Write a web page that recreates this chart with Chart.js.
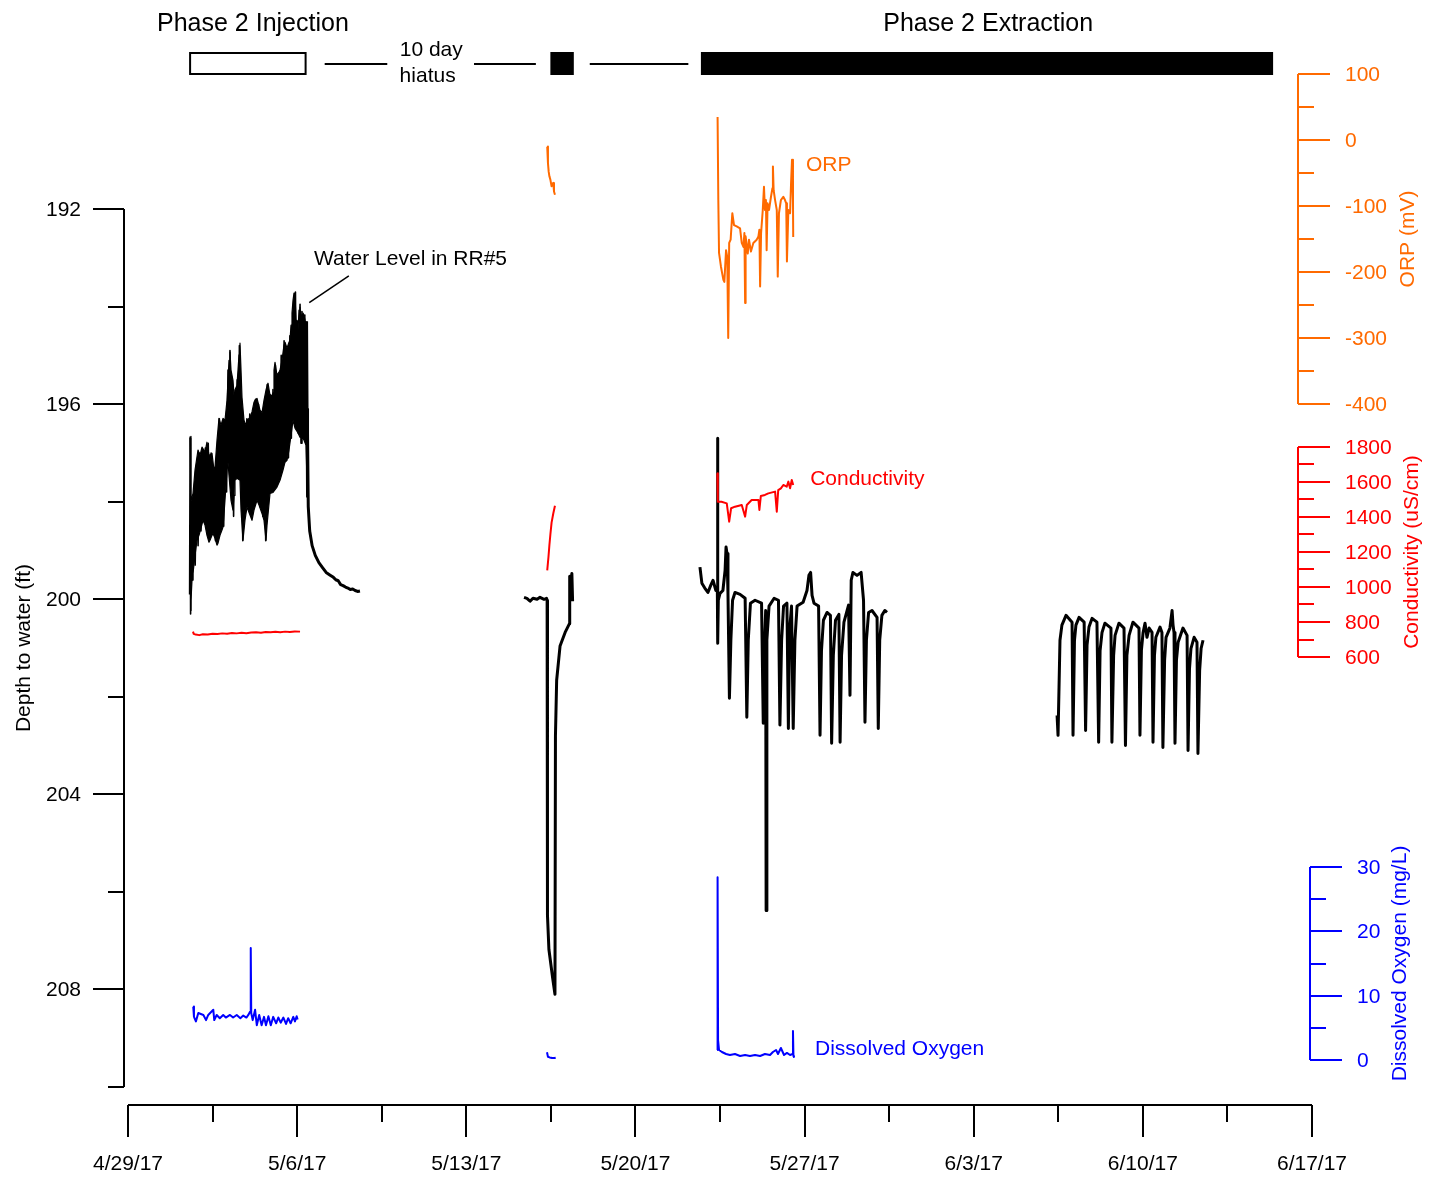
<!DOCTYPE html>
<html>
<head>
<meta charset="utf-8">
<title>RR#5 water level, ORP, conductivity and dissolved oxygen</title>
<script src="https://cdn.jsdelivr.net/npm/chart.js@4.4.1/dist/chart.umd.min.js"></script>
<style>
  html, body { margin: 0; padding: 0; background: #fff; }
  #chart { display: block; }
</style>
</head>
<body>
<canvas id="chart" width="1431" height="1178"></canvas>
<script>
// --- Datos: x = días desde 4/29/17 00:00 ---
const dateLabels = ['4/29/17', '5/6/17', '5/13/17', '5/20/17', '5/27/17', '6/3/17', '6/10/17', '6/17/17'];
const dateTickDays = [0, 7, 14, 21, 28, 35, 42, 49];

// Profundidad al agua (ft), pozo RR#5
// Inyección: la señal oscila muy rápido; envolvente (mín. y máx.) más las oscilaciones leídas
const wlInjUpper = [
  [2.566, 196.66], [2.607, 198.0], [2.690, 197.83], [2.773, 197.35], [2.897, 196.94], [2.980, 197.05],
  [3.063, 196.88], [3.187, 196.98], [3.269, 196.78], [3.352, 197.05], [3.476, 197.01], [3.559, 197.35],
  [3.601, 197.29], [3.683, 196.74], [3.766, 196.29], [3.849, 196.43], [3.932, 196.29], [4.014, 196.33],
  [4.097, 195.92], [4.180, 195.10], [4.221, 194.93], [4.263, 195.30], [4.345, 195.51], [4.387, 195.82],
  [4.428, 195.71], [4.511, 195.61], [4.594, 194.99], [4.635, 194.75], [4.677, 195.30], [4.718, 195.86],
  [4.801, 196.33], [4.883, 196.43], [4.925, 196.33], [5.008, 196.29], [5.049, 196.27], [5.132, 196.16],
  [5.215, 195.96], [5.256, 195.92], [5.339, 195.88], [5.380, 195.88], [5.463, 196.12], [5.546, 196.18],
  [5.628, 195.92], [5.711, 195.71], [5.794, 195.57], [5.877, 195.82], [5.960, 195.82], [6.001, 195.77],
  [6.042, 195.30], [6.084, 195.14], [6.166, 195.41], [6.249, 195.34], [6.291, 195.30], [6.373, 195.10],
  [6.456, 194.79], [6.498, 194.73], [6.580, 194.85], [6.663, 194.73], [6.705, 194.69], [6.746, 194.38],
  [6.787, 194.13], [6.829, 193.87], [6.870, 193.72], [6.911, 193.76], [6.953, 194.28], [6.994, 194.58],
  [7.036, 194.48], [7.077, 194.07], [7.118, 194.01], [7.160, 194.17], [7.201, 194.24], [7.242, 194.13],
  [7.284, 194.17], [7.325, 194.22], [7.367, 194.48], [7.408, 196.12]
];
const wlInjLower = [
  [2.566, 200.23], [2.607, 200.02], [2.649, 199.61], [2.690, 199.47], [2.773, 199.10], [2.856, 198.79],
  [2.938, 198.69], [3.021, 198.54], [3.104, 198.38], [3.187, 198.48], [3.269, 198.69], [3.352, 198.83],
  [3.394, 198.79], [3.476, 198.69], [3.518, 198.65], [3.601, 198.75], [3.683, 198.89], [3.725, 198.85],
  [3.807, 198.69], [3.890, 198.58], [3.932, 198.52], [4.014, 197.97], [4.097, 197.35], [4.139, 197.19],
  [4.180, 197.46], [4.263, 197.97], [4.345, 198.17], [4.387, 197.87], [4.428, 197.56], [4.511, 197.52],
  [4.635, 197.56], [4.677, 198.17], [4.759, 198.79], [4.842, 198.38], [4.925, 198.11], [5.008, 198.22],
  [5.132, 198.38], [5.215, 198.17], [5.339, 197.97], [5.422, 198.07], [5.546, 198.24], [5.628, 198.38],
  [5.711, 198.79], [5.753, 198.48], [5.877, 197.83], [6.001, 197.81], [6.166, 197.70], [6.291, 197.56],
  [6.415, 197.35], [6.498, 197.19], [6.580, 197.15], [6.663, 196.94], [6.746, 196.64], [6.829, 196.33],
  [6.911, 196.49], [7.036, 196.59], [7.118, 196.68], [7.201, 196.66], [7.284, 196.74], [7.367, 196.84],
  [7.408, 197.56]
];
const wlInjSwing = [
  [2.55, 199.9], [2.57, 196.7], [2.59, 200.3], [2.63, 198.0], [2.67, 199.6], [2.72, 197.9], [2.78, 199.3],
  [2.84, 197.3], [2.90, 198.9], [2.96, 197.0], [3.02, 198.6], [3.08, 197.1], [3.14, 198.4], [3.20, 196.9],
  [3.26, 198.3], [3.32, 196.8], [3.38, 198.7], [3.44, 197.0], [3.50, 198.6], [3.56, 197.3], [3.62, 198.8],
  [3.68, 197.2], [3.74, 198.6], [3.78, 196.3], [3.84, 198.2], [3.90, 196.4], [3.96, 198.5], [4.02, 196.6],
  [4.08, 197.8], [4.14, 195.3], [4.18, 197.2], [4.22, 194.9], [4.27, 197.6], [4.32, 195.6], [4.37, 198.3],
  [4.42, 195.8], [4.47, 197.4], [4.52, 195.5], [4.57, 197.0], [4.61, 194.8], [4.66, 197.3], [4.71, 196.3],
  [4.75, 198.8], [4.80, 196.4], [4.86, 198.1], [4.92, 196.3], [4.98, 197.9], [5.04, 196.2], [5.10, 198.3],
  [5.16, 196.3], [5.22, 198.0], [5.28, 195.9], [5.34, 197.9], [5.40, 196.0], [5.46, 198.1], [5.52, 196.2],
  [5.58, 198.3], [5.64, 196.1], [5.70, 198.8], [5.76, 195.6], [5.82, 197.8], [5.88, 195.8], [5.94, 197.6],
  [6.00, 195.7], [6.06, 197.7], [6.10, 195.2], [6.16, 197.6], [6.22, 195.4], [6.28, 197.4], [6.34, 195.0],
  [6.40, 197.3], [6.46, 194.7], [6.52, 197.0], [6.58, 194.9], [6.64, 197.1], [6.70, 194.6], [6.76, 196.7],
  [6.82, 194.3], [6.87, 196.3], [6.90, 194.0], [6.93, 193.7], [6.97, 196.4], [7.01, 194.3], [7.05, 196.6],
  [7.09, 194.6], [7.12, 193.95], [7.16, 196.8], [7.20, 194.1], [7.24, 196.7], [7.28, 194.3], [7.32, 196.5],
  [7.36, 194.3]
];
const wlRecovery = [
  [7.39, 194.3], [7.41, 196.1], [7.42, 197.9], [7.44, 196.6], [7.46, 198.1], [7.52, 198.6], [7.62, 198.9],
  [7.75, 199.1], [7.90, 199.25], [8.05, 199.35], [8.20, 199.45], [8.35, 199.5], [8.50, 199.55], [8.60, 199.6],
  [8.70, 199.62], [8.80, 199.7], [8.90, 199.72], [9.00, 199.75], [9.10, 199.77], [9.20, 199.8], [9.30, 199.79],
  [9.40, 199.82], [9.50, 199.84], [9.60, 199.83]
];
const wlPilot = [
  [16.39, 199.96], [16.51, 199.98], [16.64, 200.04], [16.76, 199.98], [16.93, 200.0], [17.05, 199.96],
  [17.22, 200.0], [17.32, 199.98], [17.345, 200.02], [17.36, 206.48], [17.42, 207.18], [17.57, 207.75],
  [17.67, 208.1], [17.69, 202.81], [17.74, 201.66], [17.88, 200.96], [18.09, 200.68], [18.27, 200.5],
  [18.28, 199.53], [18.32, 199.69], [18.37, 199.47], [18.40, 200.04]
];
const wlExtraction = [
  [23.67, 199.34], [23.75, 199.67], [23.87, 199.77], [24.00, 199.86], [24.12, 199.71], [24.21, 199.61],
  [24.33, 199.82], [24.39, 199.82], [24.40, 196.7], [24.41, 200.9], [24.43, 200.02], [24.50, 199.88],
  [24.62, 199.82], [24.71, 199.41], [24.75, 198.93], [24.79, 199.06], [24.83, 199.88], [24.89, 202.03],
  [24.95, 200.84], [25.02, 200.02], [25.12, 199.86], [25.33, 199.9], [25.54, 199.98], [25.61, 202.42],
  [25.67, 200.84], [25.76, 200.08], [25.95, 200.02], [26.22, 200.08], [26.29, 202.54], [26.35, 200.84],
  [26.39, 200.23], [26.41, 206.38], [26.44, 200.84], [26.53, 200.14], [26.74, 199.98], [26.92, 200.02],
  [26.98, 202.58], [27.05, 200.84], [27.13, 200.14], [27.27, 200.08], [27.33, 202.65], [27.38, 200.64],
  [27.46, 200.14], [27.53, 202.65], [27.60, 200.84], [27.69, 200.14], [27.94, 200.06], [28.10, 199.82],
  [28.18, 199.51], [28.25, 199.45], [28.31, 199.92], [28.39, 200.08], [28.58, 200.14], [28.64, 202.79],
  [28.70, 201.05], [28.78, 200.43], [28.93, 200.27], [29.07, 200.33], [29.12, 202.95], [29.19, 201.15],
  [29.28, 200.43], [29.42, 200.31], [29.47, 202.93], [29.53, 201.15], [29.63, 200.47], [29.82, 200.12],
  [29.88, 201.97], [29.93, 199.61], [30.00, 199.45], [30.17, 199.51], [30.34, 199.45], [30.44, 200.02],
  [30.50, 202.52], [30.56, 200.84], [30.65, 200.27], [30.79, 200.23], [31.00, 200.37], [31.05, 202.65],
  [31.11, 200.84], [31.20, 200.33], [31.32, 200.23], [31.41, 200.27]
];
const wlLate = [
  [38.45, 202.38], [38.49, 202.79], [38.57, 200.84], [38.65, 200.53], [38.82, 200.33], [39.07, 200.47],
  [39.11, 202.79], [39.17, 200.84], [39.23, 200.53], [39.36, 200.37], [39.57, 200.47],
  [39.63, 202.69], [39.69, 200.94], [39.77, 200.57], [39.90, 200.39], [40.10, 200.47],
  [40.17, 202.93], [40.23, 201.05], [40.31, 200.68], [40.43, 200.49], [40.68, 200.59],
  [40.72, 202.93], [40.79, 201.15], [40.85, 200.74], [41.01, 200.49], [41.22, 200.59],
  [41.28, 203.0], [41.34, 201.15], [41.43, 200.74], [41.59, 200.47], [41.84, 200.59],
  [41.88, 202.79], [41.94, 201.05], [42.01, 200.68], [42.09, 200.49], [42.17, 200.78], [42.26, 200.59], [42.38, 200.68],
  [42.42, 202.93], [42.48, 201.15], [42.54, 200.78], [42.71, 200.57], [42.79, 200.68],
  [42.83, 203.04], [42.90, 201.25], [42.96, 200.78], [43.12, 200.59], [43.21, 200.23], [43.25, 200.53], [43.29, 200.68],
  [43.33, 202.95], [43.39, 201.25], [43.46, 200.88], [43.66, 200.59], [43.83, 200.74],
  [43.87, 203.1], [43.93, 201.42], [43.99, 201.01], [44.12, 200.78], [44.24, 200.88],
  [44.28, 203.16], [44.35, 201.46], [44.41, 201.01], [44.49, 200.84]
];

// ORP (mV)
const orpPilot = [
  [17.35, -10], [17.38, -35], [17.41, -48], [17.44, -55], [17.48, -60], [17.53, -70], [17.57, -66],
  [17.60, -65], [17.63, -78], [17.67, -83]
];
const orpExtraction = [
  [24.40, 35], [24.43, -91], [24.46, -171], [24.54, -192], [24.64, -212], [24.68, -215], [24.75, -167],
  [24.80, -177], [24.84, -300], [24.88, -156], [24.94, -151], [25.01, -111], [25.08, -129], [25.19, -131],
  [25.33, -134], [25.40, -156], [25.47, -162], [25.51, -141], [25.54, -247], [25.56, -146], [25.65, -172],
  [25.70, -151], [25.78, -169], [25.88, -156], [26.02, -151], [26.09, -146], [26.13, -136], [26.16, -222],
  [26.20, -141], [26.27, -106], [26.32, -71], [26.36, -106], [26.40, -91], [26.43, -167], [26.47, -96],
  [26.53, -106], [26.61, -86], [26.67, -73], [26.69, -40], [26.72, -76], [26.78, -91], [26.85, -106],
  [26.89, -207], [26.94, -111], [27.02, -91], [27.12, -86], [27.19, -91], [27.24, -96], [27.27, -184],
  [27.33, -106], [27.40, -111], [27.44, -66], [27.48, -30], [27.52, -91], [27.53, -147]
];

// Conductividad (uS/cm)
const condInjection = [
  [2.69, 745], [2.72, 732], [2.80, 728], [2.95, 725], [3.10, 730], [3.30, 728], [3.50, 733], [3.70, 731],
  [3.90, 735], [4.10, 733], [4.30, 737], [4.50, 735], [4.70, 738], [4.90, 736], [5.10, 740], [5.30, 742],
  [5.50, 739], [5.70, 743], [5.90, 741], [6.10, 744], [6.30, 742], [6.50, 745], [6.70, 743], [6.90, 746],
  [7.12, 745]
];
const condPilot = [
  [17.35, 1095], [17.40, 1170], [17.44, 1240], [17.48, 1300], [17.53, 1368], [17.60, 1420], [17.67, 1464]
];
const condExtraction = [
  [24.39, 1650], [24.41, 1487], [24.56, 1487], [24.78, 1478], [24.88, 1373], [24.96, 1450], [25.12, 1459],
  [25.40, 1469], [25.54, 1402], [25.61, 1469], [25.81, 1497], [26.09, 1497], [26.13, 1440], [26.19, 1520],
  [26.36, 1526], [26.50, 1535], [26.78, 1545], [26.85, 1430], [26.91, 1554], [27.02, 1564], [27.12, 1583],
  [27.26, 1573], [27.33, 1602], [27.40, 1564], [27.47, 1611], [27.53, 1583]
];

// Oxígeno disuelto (mg/L)
const doInjection = [
  [2.70, 8.3], [2.73, 6.7], [2.81, 6.0], [2.91, 7.3], [3.12, 7.0], [3.23, 6.2], [3.32, 7.0], [3.53, 7.8],
  [3.57, 6.2], [3.67, 7.0], [3.80, 6.5], [3.94, 7.0], [4.05, 6.6], [4.22, 7.0], [4.35, 6.6], [4.50, 7.0],
  [4.65, 6.5], [4.77, 6.9], [4.90, 6.6], [4.98, 7.0], [5.05, 7.5], [5.08, 17.4], [5.10, 7.3], [5.16, 6.2],
  [5.26, 7.8], [5.33, 5.4], [5.43, 7.0], [5.53, 5.4], [5.63, 6.7], [5.71, 5.4], [5.81, 6.8], [5.91, 5.4],
  [6.01, 6.7], [6.13, 5.7], [6.22, 6.6], [6.32, 5.8], [6.43, 6.6], [6.54, 5.6], [6.63, 6.5], [6.73, 5.7],
  [6.84, 6.7], [6.91, 6.0], [6.98, 6.8], [7.02, 6.3]
];
const doPilot = [
  [17.34, 1.2], [17.38, 0.5], [17.45, 0.4], [17.55, 0.3], [17.65, 0.3], [17.70, 0.35]
];
const doExtraction = [
  [24.38, 1.55], [24.40, 28.4], [24.42, 3.1], [24.46, 1.55], [24.58, 1.24], [24.75, 0.93], [24.91, 0.78],
  [25.12, 0.93], [25.33, 0.62], [25.54, 0.78], [25.74, 0.62], [25.95, 0.78], [26.16, 0.62], [26.36, 0.93],
  [26.57, 0.78], [26.69, 1.24], [26.82, 1.55], [26.90, 0.93], [27.02, 1.87], [27.15, 0.78], [27.27, 1.1],
  [27.40, 0.78], [27.50, 0.93], [27.52, 4.5], [27.54, 0.62], [27.56, 0.47]
];

// Fases del ensayo (días)
const phaseTitles = ['Phase 2 Injection', 'Phase 2 Extraction'];
const phaseTitleDays = [5.17, 35.6];
const phaseBlocks = [[2.57, 7.35, 'open'], [17.48, 18.45, 'filled'], [23.71, 47.39, 'filled']];
const hiatusLines = [[8.14, 10.73], [14.32, 16.88], [19.11, 23.19]];

// --- Utilidades ---
const FONT = '"Liberation Sans", Arial, Helvetica, sans-serif';
const AREA = { top: 14, bottom: 1087, left: 128, right: 1312 };
const ORANGE = '#FF6A00';
const RED = '#FF0000';
const BLUE = '#0000FF';

function toXY(seg) {
  return seg.map(([x, y]) => ({ x, y }));
}

function joinSegments(...segs) {
  const out = [];
  segs.forEach((seg, i) => {
    if (i > 0) out.push({ x: seg[0][0] - 0.02, y: null });
    seg.forEach(([x, y]) => out.push({ x, y }));
  });
  return out;
}

// rango de escala para que [lo, hi] ocupe los píxeles [yLo, yHi]
function fitRange(lo, hi, yLo, yHi) {
  const k = (yLo - yHi) / (hi - lo);
  return { min: lo - (AREA.bottom - yLo) / k, max: hi + (yHi - AREA.top) / k };
}

function drawVAxis(ctx, scale, o) {
  ctx.save();
  ctx.strokeStyle = o.color;
  ctx.fillStyle = o.color;
  ctx.lineWidth = 2;
  ctx.beginPath();
  ctx.moveTo(o.x, scale.getPixelForValue(o.from));
  ctx.lineTo(o.x, scale.getPixelForValue(o.to));
  ctx.stroke();
  ctx.font = '21px ' + FONT;
  ctx.textBaseline = 'middle';
  ctx.textAlign = o.dir < 0 ? 'right' : 'left';
  const n = Math.round((o.to - o.from) / o.minor);
  for (let i = 0; i <= n; i++) {
    const v = o.from + i * o.minor;
    const y = Math.round(scale.getPixelForValue(v));
    const major = i % Math.round(o.major / o.minor) === 0;
    const len = major ? o.majorLen : o.minorLen;
    ctx.beginPath();
    ctx.moveTo(o.x, y);
    ctx.lineTo(o.x + o.dir * len, y);
    ctx.stroke();
    if (major) ctx.fillText(String(v), o.labelX, y + 1);
  }
  const mid = (scale.getPixelForValue(o.from) + scale.getPixelForValue(o.to)) / 2;
  ctx.translate(o.titleX, mid);
  ctx.rotate(-Math.PI / 2);
  ctx.textAlign = 'center';
  ctx.fillText(o.title, 0, 0);
  ctx.restore();
}

const axesPlugin = {
  id: 'axesAndNotes',
  afterDraw(chart) {
    const ctx = chart.ctx;
    const s = chart.scales;
    const X = v => s.x.getPixelForValue(v);

    // eje x
    ctx.save();
    ctx.strokeStyle = '#000';
    ctx.fillStyle = '#000';
    ctx.lineWidth = 2;
    const axisY = 1105;
    ctx.beginPath();
    ctx.moveTo(X(0), axisY);
    ctx.lineTo(X(49), axisY);
    ctx.stroke();
    for (let d = 0; d <= 49; d += 3.5) {
      const px = Math.round(X(d));
      const major = dateTickDays.includes(d);
      ctx.beginPath();
      ctx.moveTo(px, axisY);
      ctx.lineTo(px, axisY + (major ? 32 : 17));
      ctx.stroke();
    }
    ctx.font = '21px ' + FONT;
    ctx.textAlign = 'center';
    ctx.textBaseline = 'middle';
    dateTickDays.forEach((d, i) => ctx.fillText(dateLabels[i], X(d), 1164));
    ctx.restore();

    drawVAxis(ctx, s.depth, { x: 124, from: 192, to: 210, major: 4, minor: 2, dir: -1,
      majorLen: 31, minorLen: 16, labelX: 81, color: '#000', title: 'Depth to water (ft)', titleX: 24 });
    drawVAxis(ctx, s.orp, { x: 1298, from: -400, to: 100, major: 100, minor: 50, dir: 1,
      majorLen: 32, minorLen: 16, labelX: 1345, color: ORANGE, title: 'ORP (mV)', titleX: 1408 });
    drawVAxis(ctx, s.cond, { x: 1298, from: 600, to: 1800, major: 200, minor: 100, dir: 1,
      majorLen: 32, minorLen: 16, labelX: 1345, color: RED, title: 'Conductivity (uS/cm)', titleX: 1412 });
    drawVAxis(ctx, s.oxy, { x: 1310, from: 0, to: 30, major: 10, minor: 5, dir: 1,
      majorLen: 32, minorLen: 16, labelX: 1357, color: BLUE, title: 'Dissolved Oxygen (mg/L)', titleX: 1400 });

    // fases
    ctx.save();
    ctx.strokeStyle = '#000';
    ctx.fillStyle = '#000';
    ctx.lineWidth = 2;
    ctx.font = '25px ' + FONT;
    ctx.textAlign = 'center';
    ctx.textBaseline = 'middle';
    phaseTitles.forEach((t, i) => ctx.fillText(t, X(phaseTitleDays[i]), 24));
    phaseBlocks.forEach(([a, b, kind]) => {
      const x0 = X(a), x1 = X(b);
      if (kind === 'open') ctx.strokeRect(x0, 53, x1 - x0, 21);
      else ctx.fillRect(x0, 52, x1 - x0, 23);
    });
    hiatusLines.forEach(([a, b]) => {
      ctx.beginPath();
      ctx.moveTo(X(a), 64);
      ctx.lineTo(X(b), 64);
      ctx.stroke();
    });
    ctx.font = '21px ' + FONT;
    ctx.fillText('10 day', X(12.55), 50);
    ctx.fillText('hiatus', X(12.4), 76);

    // rótulos de series
    ctx.textAlign = 'left';
    ctx.fillText('Water Level in RR#5', X(7.7), s.depth.getPixelForValue(193.03));
    ctx.lineWidth = 1.5;
    ctx.beginPath();
    ctx.moveTo(X(9.14), s.depth.getPixelForValue(193.37));
    ctx.lineTo(X(7.50), s.depth.getPixelForValue(193.92));
    ctx.stroke();
    ctx.fillStyle = ORANGE;
    ctx.fillText('ORP', X(28.06), s.orp.getPixelForValue(-38));
    ctx.fillStyle = RED;
    ctx.fillText('Conductivity', X(28.23), s.cond.getPixelForValue(1617));
    ctx.fillStyle = BLUE;
    ctx.fillText('Dissolved Oxygen', X(28.43), s.oxy.getPixelForValue(1.7));
    ctx.restore();
  }
};

const orpRange = fitRange(-400, 100, 404, 74);
const condRange = fitRange(600, 1800, 657, 447);
const oxyRange = fitRange(0, 30, 1060, 867);

function lineSet(label, data, color, axis, width, fill) {
  return {
    label, data, yAxisID: axis,
    borderColor: color, backgroundColor: color,
    borderWidth: width, pointRadius: 0, tension: 0,
    borderJoinStyle: 'round', spanGaps: false, fill: fill || false
  };
}

new Chart(document.getElementById('chart'), {
  type: 'line',
  data: {
    datasets: [
      lineSet('ORP', joinSegments(orpPilot, orpExtraction), ORANGE, 'orp', 2),
      lineSet('Conductivity', joinSegments(condInjection, condPilot, condExtraction), RED, 'cond', 2),
      lineSet('Dissolved Oxygen', joinSegments(doInjection, doPilot, doExtraction), BLUE, 'oxy', 2),
      lineSet('Water Level in RR#5', joinSegments(wlRecovery, wlPilot, wlExtraction, wlLate), '#000', 'depth', 3),
      lineSet('Water level (injection swings)', toXY(wlInjSwing), '#000', 'depth', 1.6),
      lineSet('Water level (injection, shallow)', toXY(wlInjUpper), '#000', 'depth', 1.2, '+1'),
      lineSet('Water level (injection, deep)', toXY(wlInjLower), '#000', 'depth', 1.2)
    ]
  },
  options: {
    responsive: false,
    animation: false,
    devicePixelRatio: 1,
    layout: { padding: { left: AREA.left, right: 1431 - AREA.right, top: AREA.top, bottom: 1178 - AREA.bottom } },
    plugins: { legend: { display: false }, tooltip: { enabled: false } },
    scales: {
      x: { type: 'linear', min: 0, max: 49, display: false },
      depth: { type: 'linear', reverse: true, min: 188, max: 210, display: false },
      orp: { type: 'linear', min: orpRange.min, max: orpRange.max, display: false },
      cond: { type: 'linear', min: condRange.min, max: condRange.max, display: false },
      oxy: { type: 'linear', min: oxyRange.min, max: oxyRange.max, display: false }
    }
  },
  plugins: [axesPlugin]
});
</script>
</body>
</html>
